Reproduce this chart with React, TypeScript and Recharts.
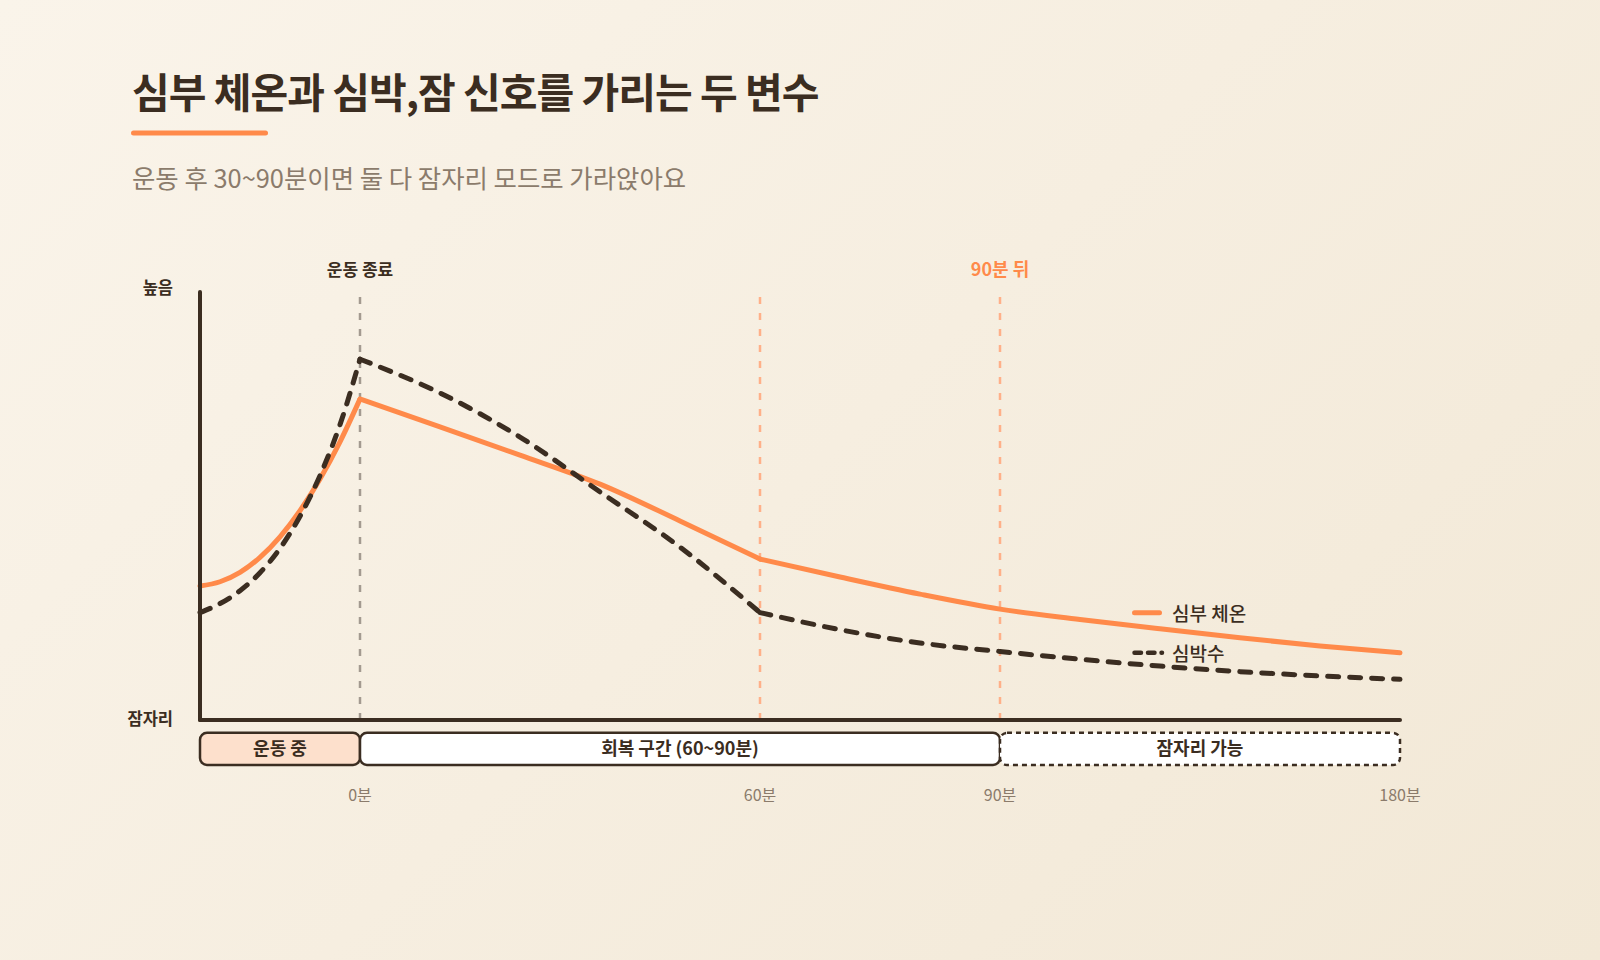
import { LineChart, Line, XAxis, YAxis, ReferenceLine, ReferenceArea, Legend } from "recharts";

const FONT = "'Noto Sans CJK KR', 'Noto Sans', sans-serif";
const INK = "#3b2d21";
const ORANGE = "#ff8a4a";
const MUTED = "#8b7b6b";

const TITLE = "심부 체온과 심박,잠 신호를 가리는 두 변수";
const SUBTITLE = "운동 후 30~90분이면 둘 다 잠자리 모드로 가라앉아요";

// x is a layout unit: 0–2 exercise, 2 = end of workout, 7 = 60 min, 10 = 90 min, 15 = 180 min
const RAMP_X = [0, 0.25, 0.5, 0.75, 1, 1.25, 1.5, 1.75, 2];
const TEMP_RAMP = [31.3, 32.3, 34.5, 38.0, 42.8, 48.9, 56.3, 65.0, 75.0];
const HR_RAMP = [25.1, 27.2, 30.2, 34.4, 40.1, 47.6, 57.1, 69.0, 84.3];

const FALL_X = [2, 3, 4, 5, 6, 7];
const TEMP_FALL = [75.0, 68.5, 61.9, 55.1, 46.5, 37.6];
const HR_FALL = [84.3, 76.4, 66.1, 53.3, 40.4, 25.1];

const TAIL_X = [7, 8, 9, 10, 11, 12, 13, 14, 15];
const TEMP_TAIL = [37.6, 33.4, 29.4, 25.9, 23.5, 21.3, 19.2, 17.3, 15.7];
const HR_TAIL = [25.1, 21.1, 18.0, 16.0, 14.2, 12.6, 11.3, 10.3, 9.5];

const TICK_POS = [2, 7, 10, 15];
const TICK_LABELS = ["0분", "60분", "90분", "180분"];
const Y_LABELS = ["잠자리", "높음"];

const PHASE_BOUNDS = [0, 2, 10, 15];
const PHASE_LABELS = ["운동 중", "회복 구간 (60~90분)", "잠자리 가능"];

const MARKER_POS = [2, 7, 10];
const MARKER_LABELS = ["운동 종료", "", "90분 뒤"];

const LEGEND_LABELS = ["심부 체온", "심박수"];

const seg = (xs: number[], ys: number[]) => xs.map((x, i) => ({ x, v: ys[i] }));

const HR_DASH = "11 11";

function XTick(props: any) {
  const { x, y, payload } = props;
  const i = TICK_POS.indexOf(payload.value);
  return (
    <text x={x} y={y} textAnchor="middle" dominantBaseline="central" fontSize={16} fill={MUTED}>
      {TICK_LABELS[i]}
    </text>
  );
}

function YTick(props: any) {
  const { x, y, payload } = props;
  const top = payload.value === 100;
  return (
    <text x={x} y={y + (top ? -5 : -2)} textAnchor="end" dominantBaseline="central" fontSize={16.5} fontWeight={700} fill={INK}>
      {top ? Y_LABELS[1] : Y_LABELS[0]}
    </text>
  );
}

function LegendBox() {
  return (
    <svg width={170} height={70}>
      <line x1={10.5} x2={35.5} y1={14.7} y2={14.7} stroke={ORANGE} strokeWidth={5} strokeLinecap="round" />
      <text x={48} y={14.7} dominantBaseline="central" fontSize={19} fontWeight={500} fill={INK}>
        {LEGEND_LABELS[0]}
      </text>
      <line x1={10.5} x2={38} y1={54.7} y2={54.7} stroke={INK} strokeWidth={4.5} strokeLinecap="round" strokeDasharray="6.5 7" />
      <text x={48} y={54.7} dominantBaseline="central" fontSize={19} fontWeight={500} fill={INK}>
        {LEGEND_LABELS[1]}
      </text>
    </svg>
  );
}

const bandShape = (i: number) => (p: any) => (
  <rect
    x={p.x}
    y={p.y}
    width={p.width}
    height={p.height}
    rx={7}
    fill={i === 0 ? "#fde0cc" : "#ffffff"}
    stroke={INK}
    strokeWidth={2.5}
    strokeDasharray={i === 2 ? "5 4" : undefined}
  />
);

export default function App() {
  const lineCommon = {
    dataKey: "v",
    type: "monotone" as const,
    dot: false,
    activeDot: false,
    isAnimationActive: false,
    strokeLinecap: "round" as const,
    strokeLinejoin: "round" as const,
  };
  return (
    <div
      style={{
        position: "absolute",
        left: 0,
        top: 0,
        width: 1600,
        height: 960,
        overflow: "hidden",
        fontFamily: FONT,
        background: "linear-gradient(135deg, #faf4ea 0%, #f2e8d6 100%)",
      }}
    >
      <div style={{ position: "absolute", left: 0, top: 0 }}>
        <LineChart width={1600} height={960} margin={{ top: 292, right: 200, bottom: 160, left: 199 }}>
          <XAxis
            type="number"
            dataKey="x"
            domain={[0, 15]}
            ticks={TICK_POS}
            interval={0}
            height={80}
            axisLine={{ stroke: INK, strokeWidth: 4, strokeLinecap: "round" }}
            tickLine={false}
            tickSize={0}
            tickMargin={74}
            tick={<XTick />}
          />
          <YAxis
            type="number"
            domain={[0, 100]}
            ticks={[0, 100]}
            interval={0}
            width={1}
            axisLine={{ stroke: INK, strokeWidth: 4, strokeLinecap: "round" }}
            tickLine={false}
            tickSize={0}
            tickMargin={27}
            tick={<YTick />}
          />
          {MARKER_POS.map((pos, i) => (
            <ReferenceLine
              key={pos}
              x={pos}
              stroke={i === 0 ? "#a39a90" : "#ffb089"}
              strokeWidth={2.5}
              strokeDasharray="7 9"
              label={
                MARKER_LABELS[i]
                  ? {
                      value: MARKER_LABELS[i],
                      position: "top",
                      offset: 16,
                      fill: i === 0 ? INK : ORANGE,
                      fontSize: i === 0 ? 17 : 18,
                      fontWeight: 700,
                    }
                  : undefined
              }
            />
          ))}
          {PHASE_LABELS.map((label, i) => (
            <ReferenceArea
              key={label}
              x1={PHASE_BOUNDS[i]}
              x2={PHASE_BOUNDS[i + 1]}
              y1={-10.5}
              y2={-3.0}
              ifOverflow="visible"
              shape={bandShape(i)}
              label={{ value: label, position: "center", fill: INK, fontSize: 18, fontWeight: 700 }}
            />
          ))}
          <Line {...lineCommon} data={seg(RAMP_X, TEMP_RAMP)} stroke={ORANGE} strokeWidth={5} />
          <Line {...lineCommon} data={seg(FALL_X, TEMP_FALL)} stroke={ORANGE} strokeWidth={5} />
          <Line {...lineCommon} data={seg(TAIL_X, TEMP_TAIL)} stroke={ORANGE} strokeWidth={5} />
          <Line {...lineCommon} data={seg(RAMP_X, HR_RAMP)} stroke={INK} strokeWidth={5} strokeDasharray={HR_DASH} />
          <Line {...lineCommon} data={seg(FALL_X, HR_FALL)} stroke={INK} strokeWidth={5} strokeDasharray={HR_DASH} />
          <Line {...lineCommon} data={seg(TAIL_X, HR_TAIL)} stroke={INK} strokeWidth={5} strokeDasharray={HR_DASH} />
          <Legend
            layout="horizontal"
            verticalAlign="middle"
            align="center"
            wrapperStyle={{ left: 1124, top: 598, width: 170, height: 70 }}
            content={() => <LegendBox />}
          />
        </LineChart>
      </div>
      <svg width={1600} height={960} style={{ position: "absolute", left: 0, top: 0, pointerEvents: "none" }}>
        <text x={132} y={90} dominantBaseline="central" fontSize={41} fontWeight={700} letterSpacing={-1} fill={INK}>
          {TITLE}
        </text>
        <rect x={131} y={130.5} width={137} height={5} rx={2.5} fill={ORANGE} />
        <text x={132} y={176.5} dominantBaseline="central" fontSize={25.4} fill={MUTED}>
          {SUBTITLE}
        </text>
      </svg>
    </div>
  );
}
